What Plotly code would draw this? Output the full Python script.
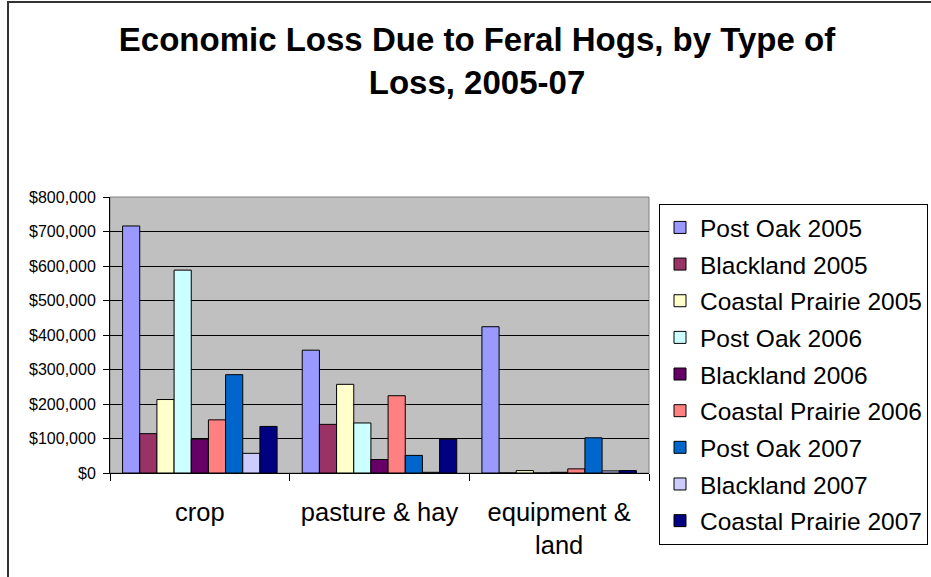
import plotly.graph_objects as go

categories = ["crop", "pasture & hay", "equipment &<br>land"]
series_names = [
    "Post Oak 2005", "Blackland 2005", "Coastal Prairie 2005",
    "Post Oak 2006", "Blackland 2006", "Coastal Prairie 2006",
    "Post Oak 2007", "Blackland 2007", "Coastal Prairie 2007",
]
post_oak_2005 = [716000, 356000, 424000]
blackland_2005 = [114000, 141000, 0]
coastal_prairie_2005 = [213000, 257000, 7000]
post_oak_2006 = [588000, 145000, 0]
blackland_2006 = [98000, 39000, 2000]
coastal_prairie_2006 = [154000, 224000, 12000]
post_oak_2007 = [285000, 51000, 102000]
blackland_2007 = [57000, 2000, 6000]
coastal_prairie_2007 = [135000, 98000, 7000]
series_values = [
    post_oak_2005, blackland_2005, coastal_prairie_2005,
    post_oak_2006, blackland_2006, coastal_prairie_2006,
    post_oak_2007, blackland_2007, coastal_prairie_2007,
]
colors = ["#9999FF", "#993366", "#FFFFCC", "#CCFFFF", "#660066",
          "#FF8080", "#0066CC", "#CCCCFF", "#000080"]

W, H = 931, 577
L, R, T, B = 110, 649, 197, 473

fig = go.Figure()
for name, vals, col in zip(series_names, series_values, colors):
    fig.add_trace(go.Bar(
        x=categories, y=vals, name=name, legendgroup=name,
        marker=dict(color=col, line=dict(color="black", width=1)),
    ))

pw, ph = R - L, B - T
fig.add_shape(type="rect", xref="paper", yref="paper",
              x0=(8 - L) / pw, x1=(940 - L) / pw,
              y0=(B - 590) / ph, y1=(B - 2) / ph,
              line=dict(color="#333333", width=2), fillcolor="rgba(0,0,0,0)",
              layer="below")
fig.add_shape(type="rect", xref="paper", yref="paper", x0=0, x1=1, y0=0, y1=1,
              line=dict(color="#808080", width=1), fillcolor="rgba(0,0,0,0)",
              layer="below")

fig.update_layout(
    width=W, height=H,
    margin=dict(l=L, r=W - R, t=T, b=H - B, pad=0, autoexpand=False),
    paper_bgcolor="white", plot_bgcolor="#C0C0C0",
    font=dict(family="Arial, Liberation Sans", color="black"),
    barmode="group", bargap=0.14, bargroupgap=0,
    title=dict(text="<b>Economic Loss Due to Feral Hogs, by Type of<br>Loss, 2005-07</b>",
               font=dict(size=33, color="black"),
               x=477 / W, xanchor="center", xref="container",
               y=1 - 51 / H, yanchor="top", yref="container"),
    legend=dict(x=659 / W, xanchor="left", xref="container",
                y=(B - 204) / ph, yanchor="top", yref="paper",
                bgcolor="white", bordercolor="black", borderwidth=1,
                font=dict(size=24.5), tracegroupgap=1.8, traceorder="grouped",
                maxheight=450),
    showlegend=True,
)
fig.update_xaxes(
    type="category", showline=True, linecolor="black", linewidth=1,
    ticks="outside", tickson="boundaries", ticklen=7, tickcolor="black",
    tickfont=dict(size=25.5), ticklabelstandoff=16, showgrid=False,
    mirror=False,
)
fig.update_yaxes(
    range=[0, 800000], dtick=100000, tickformat="$,.0f",
    showline=True, linecolor="black", linewidth=1,
    ticks="outside", ticklen=6, tickcolor="black",
    tickfont=dict(size=16), ticklabelstandoff=4,
    showgrid=True, gridcolor="black", gridwidth=1, zeroline=False,
)

fig.write_html("out.html", config={"displayModeBar": False},
               post_script="document.body.style.margin='0';")
